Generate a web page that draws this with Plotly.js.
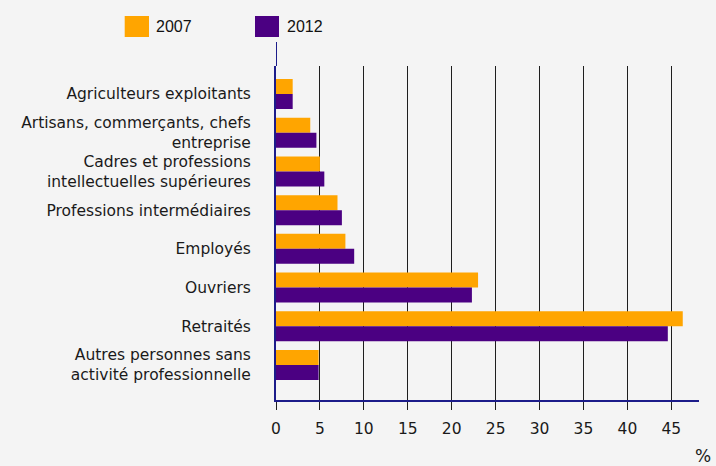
<!DOCTYPE html>
<html>
<head>
<meta charset="utf-8">
<script src="https://cdn.plot.ly/plotly-3.0.1.min.js"></script>
<style>html,body{margin:0;padding:0;background:#f4f4f4;}#chart{width:716px;height:466px;}</style>
</head>
<body>
<div id="chart"></div>
<script>
var categories = [
  "Agriculteurs exploitants",
  "Artisans, commerçants, chefs<br>entreprise",
  "Cadres et professions<br>intellectuelles supérieures",
  "Professions intermédiaires",
  "Employés",
  "Ouvriers",
  "Retraités",
  "Autres personnes sans<br>activité professionnelle"
];
var values2007 = [1.9, 3.9, 5.0, 7.0, 7.9, 23.0, 46.3, 4.85];
var values2012 = [1.9, 4.6, 5.5, 7.5, 8.9, 22.3, 44.6, 4.85];
var seriesNames = ["2007", "2012"];
var xTicks = [0, 5, 10, 15, 20, 25, 30, 35, 40, 45];

var colors = ["#FFA500", "#4B0082"];
var mainFont = "DejaVu Sans, Verdana, sans-serif";
var legendFont = "Liberation Sans, Arial, sans-serif";

var traces = [
  {type: "bar", orientation: "h", name: seriesNames[0], y: categories, x: values2007,
   marker: {color: colors[0], line: {width: 0}}, hoverinfo: "x"},
  {type: "bar", orientation: "h", name: seriesNames[1], y: categories, x: values2012,
   marker: {color: colors[1], line: {width: 0}}, hoverinfo: "x"}
];

var L = 276, PW = 423, T = 66, PH = 334;
var axisTopPaper = (T + PH - 42) / PH;
function px(xp) { return (xp - L) / PW; }
function py(yp) { return (T + PH - yp) / PH; }

var layout = {
  width: 716, height: 466,
  paper_bgcolor: "#f4f4f4", plot_bgcolor: "#f4f4f4",
  margin: {l: L, r: 716 - L - PW, t: T, b: 466 - T - PH},
  barmode: "group", bargap: 0.225, bargroupgap: 0,
  showlegend: false,
  font: {family: mainFont, size: 15.5, color: "#1a1a1a"},
  xaxis: {
    range: [0, 48.15], tickvals: xTicks, ticktext: xTicks.map(String),
    showgrid: true, gridcolor: "#1e1e1e", gridwidth: 1,
    zeroline: false,
    showline: true, linecolor: "#1c1c8a", linewidth: 2,
    ticks: "outside", ticklen: 8, tickcolor: "#1e1e1e", tickwidth: 1,
    ticklabelstandoff: 5,
    tickfont: {family: mainFont, size: 15.5, color: "#1a1a1a"},
    fixedrange: true
  },
  yaxis: {
    type: "category", categoryorder: "array", categoryarray: categories,
    range: [7.904, -0.723],
    showgrid: false, zeroline: false,
    showline: true, linecolor: "#1c1c8a", linewidth: 2,
    ticks: "", ticklabelstandoff: 20,
    tickfont: {family: mainFont, size: 15.5, color: "#1a1a1a"},
    fixedrange: true
  },
  shapes: [
    {type: "line", xref: "x", yref: "paper", x0: 0, x1: 0, y0: 1, y1: axisTopPaper,
     line: {color: "#1c1c8a", width: 2}},
    {type: "rect", xref: "paper", yref: "paper", x0: px(124.7), x1: px(149), y0: py(37), y1: py(16),
     fillcolor: colors[0], line: {width: 0}},
    {type: "rect", xref: "paper", yref: "paper", x0: px(255), x1: px(279), y0: py(37), y1: py(16),
     fillcolor: colors[1], line: {width: 0}}
  ],
  annotations: [
    {xref: "paper", yref: "paper", x: px(154), y: py(27), xanchor: "left", yanchor: "middle",
     text: seriesNames[0], showarrow: false, font: {family: legendFont, size: 16, color: "#111"}},
    {xref: "paper", yref: "paper", x: px(285), y: py(27), xanchor: "left", yanchor: "middle",
     text: seriesNames[1], showarrow: false, font: {family: legendFont, size: 16, color: "#111"}},
    {xref: "paper", yref: "paper", x: px(703), y: py(456), xanchor: "center", yanchor: "middle",
     text: "%", showarrow: false, font: {family: mainFont, size: 17, color: "#1a1a1a"}}
  ]
};

Plotly.newPlot("chart", traces, layout, {displayModeBar: false, staticPlot: true});
</script>
</body>
</html>
